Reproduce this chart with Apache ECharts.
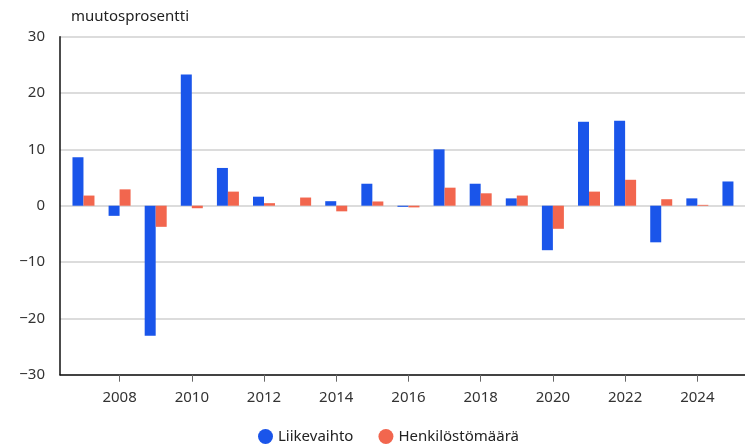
<!DOCTYPE html>
<html>
<head>
<meta charset="utf-8">
<script src="https://cdn.jsdelivr.net/npm/echarts@6/dist/echarts.min.js"></script>
<style>html,body{margin:0;padding:0;background:#fff}#c{width:745px;height:447px}</style>
</head>
<body>
<div id="c"></div>
<script>
const years = [2007,2008,2009,2010,2011,2012,2013,2014,2015,2016,2017,2018,2019,2020,2021,2022,2023,2024,2025];
const liikevaihto = [8.6,-1.8,-23.1,23.3,6.7,1.6,0,0.8,3.9,-0.2,10.0,3.9,1.3,-7.9,14.9,15.1,-6.5,1.3,4.3];
const henkilosto = [1.8,2.9,-3.75,-0.45,2.5,0.45,1.45,-1.0,0.75,-0.3,3.2,2.2,1.8,-4.1,2.5,4.6,1.15,0.15,null];
const xTicks = [2008,2010,2012,2014,2016,2018,2020,2022,2024];
const seriesNames = ['Liikevaihto','Henkilöstömäärä'];
const unitLabel = 'muutosprosentti';

const font = '"Noto Sans", "Open Sans", sans-serif';
const chart = echarts.init(document.getElementById('c'), null, {renderer:'canvas'});
const pair = arr => years.map((y,i)=>[y,arr[i]]);
chart.setOption({
  animation:false,
  textStyle:{fontFamily:font},
  title:{text:unitLabel,left:66,top:4,textStyle:{fontSize:15,fontWeight:'normal',color:'#222',fontFamily:font}},
  grid:{left:60,right:0,top:36.7,bottom:72.3},
  legend:{top:424,left:253,icon:'circle',itemWidth:15,itemHeight:15,itemGap:25,
    textStyle:{fontSize:15,color:'#222',fontFamily:font},data:seriesNames},
  xAxis:{type:'value',min:2006.35,max:2025.32,
    axisLine:{onZero:false,lineStyle:{color:'#111',width:1.5}},
    axisTick:{show:true,length:7,lineStyle:{color:'#666'},customValues:xTicks},
    axisLabel:{customValues:xTicks,fontSize:15,color:'#333',margin:16,fontFamily:font,
      formatter:v=>String(v)},
    splitLine:{show:false}},
  yAxis:{type:'value',min:-30,max:30,interval:10,
    axisLine:{show:true,lineStyle:{color:'#111',width:1.5}},
    axisTick:{show:false},
    axisLabel:{fontSize:15,color:'#333',margin:15,fontFamily:font,
      formatter:v=>String(v).replace('-','−')},
    splitLine:{lineStyle:{color:'#d0d0d0',width:1.5}}},
  series:[
    {name:seriesNames[0],type:'bar',data:pair(liikevaihto),barWidth:11,barGap:'0%',
      itemStyle:{color:'#1a55ea'}},
    {name:seriesNames[1],type:'bar',data:pair(henkilosto),barWidth:11,barGap:'0%',
      itemStyle:{color:'#f2664e'}}
  ]
});
</script>
</body>
</html>
